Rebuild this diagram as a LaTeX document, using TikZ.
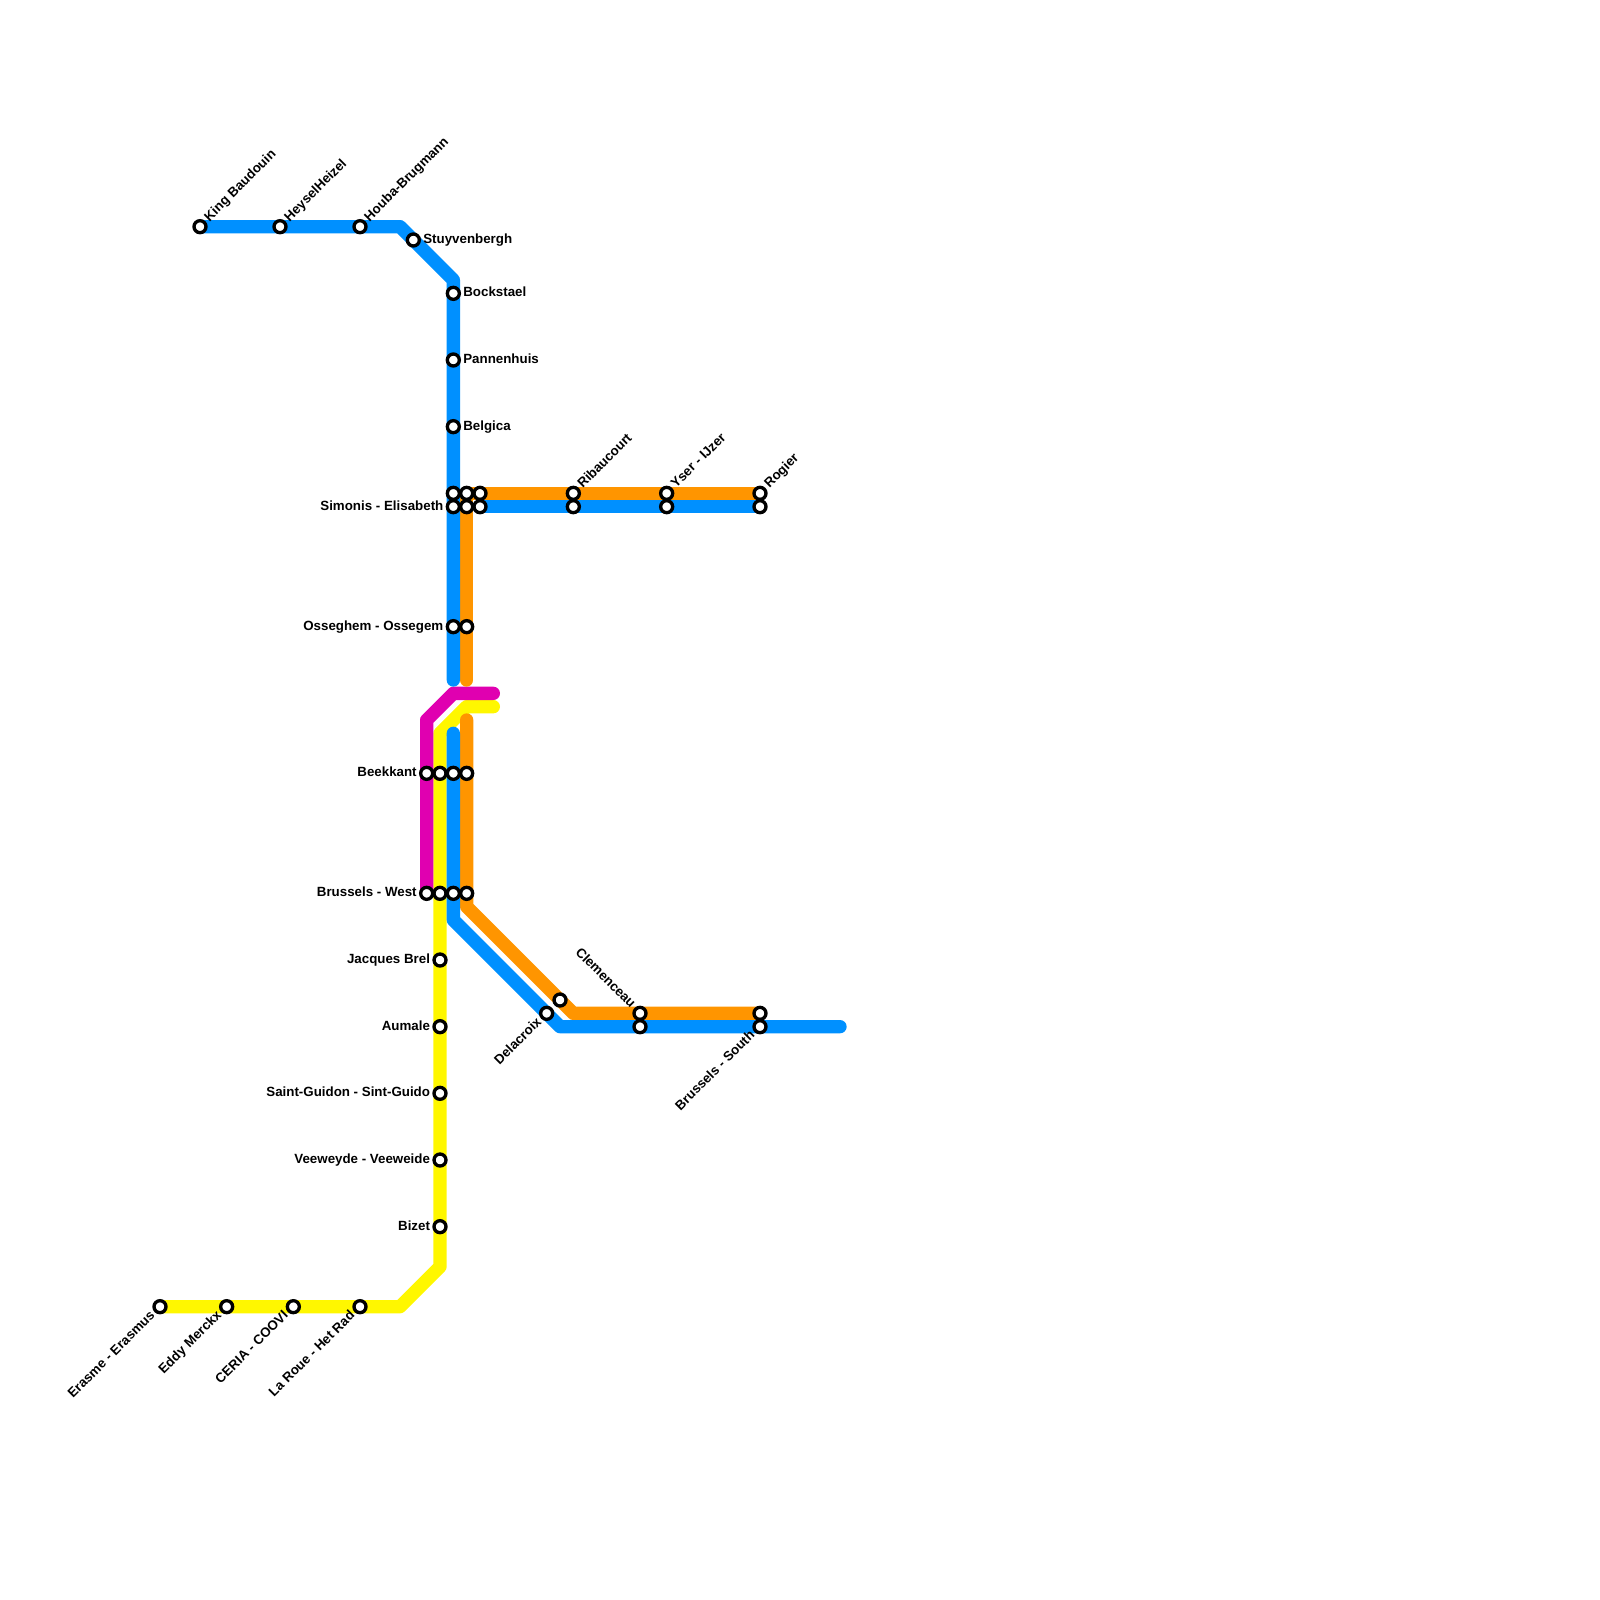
\documentclass[tikz,border=0pt]{standalone}
\usepackage{fontspec}
\setmainfont{Liberation Sans}
\definecolor{lblue}{HTML}{0090FF}
\definecolor{lorange}{HTML}{FF9500}
\definecolor{lmag}{HTML}{E000B0}
\definecolor{lyellow}{HTML}{FFF700}
\tikzset{
  metro/.style={line width=13.33pt,line cap=round,line join=round},
  stn/.style={circle,draw=black,fill=white,line width=3.33pt,minimum size=12pt,inner sep=0pt,outer sep=0pt},
  lbl/.style={font=\fontsize{13.33pt}{15pt}\selectfont\bfseries,inner sep=0pt,outer sep=0pt,text=black,text height=9.5pt,text depth=2.5pt},
  lr/.style={lbl,anchor=west,xshift=10pt},
  ll/.style={lbl,anchor=east,xshift=-10pt},
  lne/.style={lbl,anchor=west,rotate=45,xshift=10pt},
  lsw/.style={lbl,anchor=east,rotate=45,xshift=-10pt},
  lnw/.style={lbl,anchor=east,rotate=-45,xshift=-10pt}
}
\begin{document}
\begin{tikzpicture}[x=13.3333pt,y=-13.3333pt]
\useasboundingbox (0,0) rectangle (120,120);
% waypoints
\coordinate (bA) at (15,17);
\coordinate (bB) at (30,17);
\coordinate (bC) at (34,21);
\coordinate (bD) at (34,51);
\coordinate (cA) at (34,55);
\coordinate (cB) at (34,69);
\coordinate (cC) at (42,77);
\coordinate (cD) at (63,77);
\coordinate (dA) at (36,38);
\coordinate (dB) at (57,38);
\coordinate (oA) at (57,37);
\coordinate (oB) at (35,37);
\coordinate (oC) at (35,51);
\coordinate (pA) at (35,54);
\coordinate (pB) at (35,68);
\coordinate (pC) at (43,76);
\coordinate (pD) at (57,76);
\coordinate (mA) at (37,52);
\coordinate (mB) at (34,52);
\coordinate (mC) at (32,54);
\coordinate (mD) at (32,67);
\coordinate (yA) at (37,53);
\coordinate (yB) at (35,53);
\coordinate (yC) at (33,55);
\coordinate (yD) at (33,95);
\coordinate (yE) at (30,98);
\coordinate (yF) at (12,98);
% lines
\draw[metro,lyellow] (yA) -- (yB) -- (yC) -- (yD) -- (yE) -- (yF);
\draw[metro,lmag] (mA) -- (mB) -- (mC) -- (mD);
\draw[metro,lorange] (oA) -- (oB) -- (oC);
\draw[metro,lorange] (pA) -- (pB) -- (pC) -- (pD);
\draw[metro,lblue] (bA) -- (bB) -- (bC) -- (bD);
\draw[metro,lblue] (cA) -- (cB) -- (cC) -- (cD);
\draw[metro,lblue] (dA) -- (dB);
% stations
\node[stn] (king) at (15,17) {};
\node[stn] (heysel) at (21,17) {};
\node[stn] (houba) at (27,17) {};
\node[stn] (stuy) at (31,18) {};
\node[stn] (bock) at (34,22) {};
\node[stn] (pann) at (34,27) {};
\node[stn] (belg) at (34,32) {};
\node[stn] (simA) at (34,37) {};
\node[stn] (simB) at (34,38) {};
\node[stn] (simC) at (35,37) {};
\node[stn] (simD) at (35,38) {};
\node[stn] (simE) at (36,37) {};
\node[stn] (simF) at (36,38) {};
\node[stn] (ribA) at (43,37) {};
\node[stn] (ribB) at (43,38) {};
\node[stn] (yserA) at (50,37) {};
\node[stn] (yserB) at (50,38) {};
\node[stn] (rogA) at (57,37) {};
\node[stn] (rogB) at (57,38) {};
\node[stn] (ossA) at (34,47) {};
\node[stn] (ossB) at (35,47) {};
\node[stn] (beekA) at (32,58) {};
\node[stn] (beekB) at (33,58) {};
\node[stn] (beekC) at (34,58) {};
\node[stn] (beekD) at (35,58) {};
\node[stn] (westA) at (32,67) {};
\node[stn] (westB) at (33,67) {};
\node[stn] (westC) at (34,67) {};
\node[stn] (westD) at (35,67) {};
\node[stn] (jacq) at (33,72) {};
\node[stn] (aum) at (33,77) {};
\node[stn] (guid) at (33,82) {};
\node[stn] (veew) at (33,87) {};
\node[stn] (biz) at (33,92) {};
\node[stn] (eras) at (12,98) {};
\node[stn] (eddy) at (17,98) {};
\node[stn] (ceria) at (22,98) {};
\node[stn] (roue) at (27,98) {};
\node[stn] (delaA) at (41,76) {};
\node[stn] (delaB) at (42,75) {};
\node[stn] (clemA) at (48,76) {};
\node[stn] (clemB) at (48,77) {};
\node[stn] (southA) at (57,76) {};
\node[stn] (southB) at (57,77) {};
% labels
\node[lne] (tking) at (king) {King Baudouin};
\node[lne] (theysel) at (heysel) {HeyselHeizel};
\node[lne] (thouba) at (houba) {Houba-Brugmann};
\node[lr] (tstuy) at (stuy) {Stuyvenbergh};
\node[lr] (tbock) at (bock) {Bockstael};
\node[lr] (tpann) at (pann) {Pannenhuis};
\node[lr] (tbelg) at (belg) {Belgica};
\node[ll] (tsim) at (simB) {Simonis - Elisabeth};
\node[lne] (trib) at (ribA) {Ribaucourt};
\node[lne] (tyser) at (yserA) {Yser - IJzer};
\node[lne] (trog) at (rogA) {Rogier};
\node[ll] (toss) at (ossA) {Osseghem - Ossegem};
\node[ll] (tbeek) at (beekA) {Beekkant};
\node[ll] (twest) at (westA) {Brussels - West};
\node[ll] (tjacq) at (jacq) {Jacques Brel};
\node[ll] (taum) at (aum) {Aumale};
\node[ll] (tguid) at (guid) {Saint-Guidon - Sint-Guido};
\node[ll] (tveew) at (veew) {Veeweyde - Veeweide};
\node[ll] (tbiz) at (biz) {Bizet};
\node[lsw] (teras) at (eras) {Erasme - Erasmus};
\node[lsw] (teddy) at (eddy) {Eddy Merckx};
\node[lsw] (tceria) at (ceria) {CERIA - COOVI};
\node[lsw] (troue) at (roue) {La Roue - Het Rad};
\node[lsw] (tdela) at (delaA) {Delacroix};
\node[lnw] (tclem) at (clemA) {Clemenceau};
\node[lsw] (tsouth) at (southB) {Brussels - South};
\end{tikzpicture}
\end{document}
